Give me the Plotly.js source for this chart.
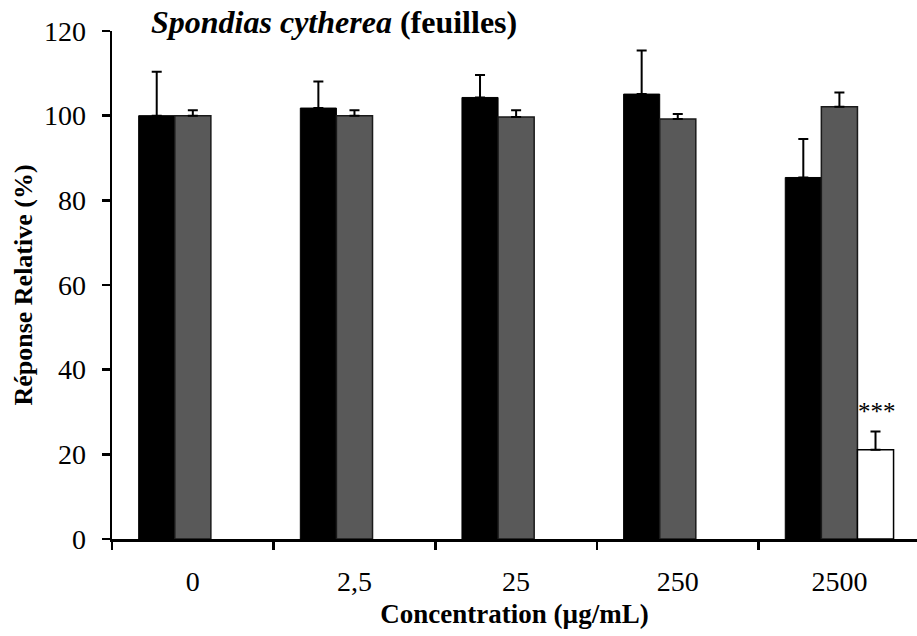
<!DOCTYPE html>
<html>
<head>
<meta charset="utf-8">
<script src="https://cdn.plot.ly/plotly-3.0.1.min.js"></script>
<style>html,body{margin:0;padding:0;background:#fff;}#chart{width:917px;height:636px;}</style>
</head>
<body>
<div id="chart"></div>
<script>
const categories = ["0", "2,5", "25", "250", "2500"];
const blackValues = [100, 101.8, 104.3, 105.1, 85.4];
const blackErrors = [10.4, 6.3, 5.3, 10.3, 9.1];
const grayValues = [100, 100, 99.7, 99.2, 102.1];
const grayErrors = [1.3, 1.3, 1.6, 1.2, 3.4];
const whiteValues = [null, null, null, null, 21.1];
const whiteErrors = [0, 0, 0, 0, 4.3];
const significance = ["", "", "", "", "***"];

const zeros = categories.map(() => 0);
const font = "'Liberation Serif', 'Times New Roman', serif";

function errY(arr) {
  return {type: "data", symmetric: false, array: arr, arrayminus: zeros,
          color: "#000", thickness: 2, width: 5, visible: true};
}

const traces = [
  {type: "bar", x: categories, y: blackValues, name: "a",
   marker: {color: "#000000", line: {color: "#000", width: 1}}, error_y: errY(blackErrors)},
  {type: "bar", x: categories, y: grayValues, name: "b",
   marker: {color: "#595959", line: {color: "#1a1a1a", width: 1.5}}, error_y: errY(grayErrors)},
  {type: "bar", x: categories, y: whiteValues, name: "c",
   marker: {color: "#ffffff", line: {color: "#000", width: 1.5}}, error_y: errY(whiteErrors)}
];

const annotations = [];
significance.forEach((s, i) => {
  if (s && whiteValues[i] != null) {
    annotations.push({x: i + 0.235, y: whiteValues[i] + whiteErrors[i], xref: "x", yref: "y",
      text: s, showarrow: false, yanchor: "bottom", yshift: 4,
      font: {family: font, size: 25, color: "#000"}});
  }
});
annotations.push({xref: "paper", yref: "paper", x: 0.0465, y: 1.0, xanchor: "left", yanchor: "middle",
  yshift: 9,
  text: "<b><i>Spondias cytherea</i> (feuilles)</b>", showarrow: false,
  font: {family: font, size: 32, color: "#000"}});

const layout = {
  width: 917, height: 636,
  margin: {l: 112, r: 0, t: 31, b: 97},
  paper_bgcolor: "#fff", plot_bgcolor: "#fff",
  barmode: "group", bargap: 0.33, bargroupgap: 0,
  showlegend: false,
  font: {family: font, color: "#000"},
  xaxis: {
    type: "category", range: [-0.5, 4.48],
    showline: true, linecolor: "#000", linewidth: 2.5,
    ticks: "outside", tickson: "boundaries", ticklen: 8, tickwidth: 2.5, tickcolor: "#000",
    showgrid: false, zeroline: false,
    tickfont: {family: font, size: 28, color: "#000"},
    ticklabelstandoff: 16,
    title: {text: "<b>Concentration (µg/mL)</b>", font: {family: font, size: 27, color: "#000"}, standoff: 8}
  },
  yaxis: {
    range: [0, 120], dtick: 20, tick0: 0,
    showline: true, linecolor: "#000", linewidth: 2.5,
    ticks: "outside", ticklen: 8, tickwidth: 2.5, tickcolor: "#000",
    showgrid: false, zeroline: false,
    tickfont: {family: font, size: 28, color: "#000"},
    ticklabelstandoff: 10,
    title: {text: "<b>Réponse Relative (%)</b>", font: {family: font, size: 26, color: "#000"}, standoff: 4}
  },
  annotations: annotations
};

Plotly.newPlot("chart", traces, layout, {displayModeBar: false, staticPlot: true});
</script>
</body>
</html>
